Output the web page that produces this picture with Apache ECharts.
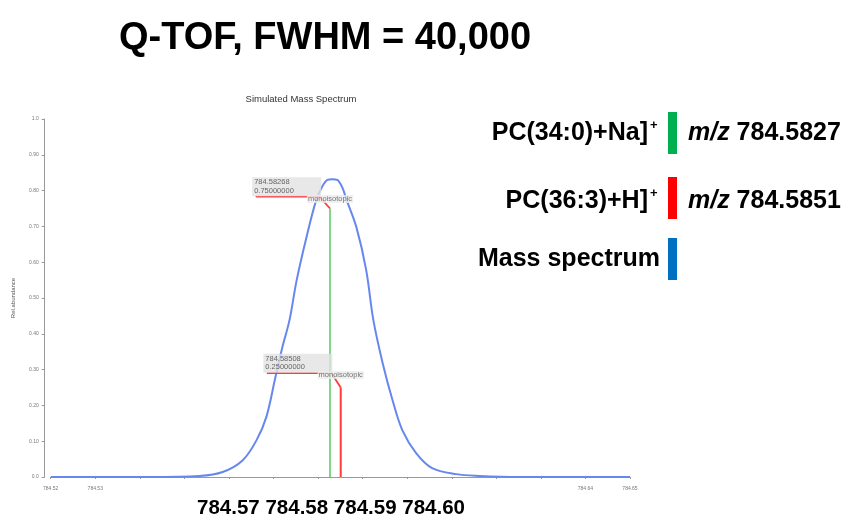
<!DOCTYPE html>
<html><head><meta charset="utf-8">
<script src="https://cdn.jsdelivr.net/npm/echarts@6/dist/echarts.min.js"></script>
<style>html,body{margin:0;padding:0;background:#fff}#c{width:846px;height:521px}</style>
</head><body><div id="c"></div>
<script>
// Simulated profile spectrum (m/z, relative abundance)
const spectrumMz = [784.5200, 784.5422, 784.5534, 784.5586, 784.5631, 784.5662, 784.5684, 784.5704, 784.5720, 784.5736, 784.5752, 784.5774, 784.5796, 784.5810, 784.5821, 784.5832, 784.5843, 784.5855, 784.5864, 784.5886, 784.5908, 784.5924, 784.5945, 784.5967, 784.5989, 784.6020, 784.6056, 784.6110, 784.6161, 784.6251, 784.6500];
const spectrumAbundance = [0.000, 0.000, 0.003, 0.014, 0.047, 0.103, 0.168, 0.277, 0.363, 0.439, 0.550, 0.670, 0.774, 0.813, 0.830, 0.832, 0.830, 0.807, 0.774, 0.698, 0.578, 0.439, 0.318, 0.215, 0.131, 0.067, 0.025, 0.008, 0.003, 0.000, 0.000];
// Centroid sticks
const stickMz = [784.58268, 784.58508];
const stickAbundance = [0.75, 0.25];
const stickMzText = ['784.58268', '784.58508'];
const stickAbundanceText = ['0.75000000', '0.25000000'];
const stickNote = 'monoisotopic';
// Annotation leader anchors (data coords)
const leaderStartMz = [784.5660, 784.5685];
const leaderBendMz = [784.5803, 784.5830];
const leaderLevel = [0.783, 0.290];
// Axis
const xMin = 784.52, xMax = 784.65, xStep = 0.01;
const yMin = 0, yMax = 1, yStep = 0.1;
const bigTickLabels = ['784.57', '784.58', '784.59', '784.60'];
// Legend
const legendNames = ['PC(34:0)+Na]', 'PC(36:3)+H]', 'Mass spectrum'];
const legendSup = ['+', '+', ''];
const legendMz = ['784.5827', '784.5851', ''];
const legendColors = ['#00b050', '#ff0000', '#0070c0'];

const chart = echarts.init(document.getElementById('c'), null, {renderer: 'canvas'});
const FONT = '"Liberation Sans", Arial, sans-serif';

const spectrumData = spectrumMz.map((m, i) => [m, spectrumAbundance[i]]);
const stickColors = ['#7fd88a', '#ff3b3b'];

const series = [{
  type: 'line', data: spectrumData, showSymbol: false, smooth: 0.35,
  lineStyle: {color: '#6688ee', width: 2}, z: 3, silent: true
}];
stickMz.forEach((m, i) => {
  series.push({
    type: 'line', data: [[m, 0], [m, stickAbundance[i]]], showSymbol: false,
    lineStyle: {color: stickColors[i], width: 2}, z: 4, silent: true
  });
  series.push({
    type: 'line',
    data: [[leaderStartMz[i], leaderLevel[i]], [leaderBendMz[i], leaderLevel[i]], [m, stickAbundance[i]]],
    showSymbol: false, lineStyle: {color: '#ff3b3b', width: 1.8}, z: 5, silent: true
  });
  series.push({
    type: 'scatter', symbolSize: 1, itemStyle: {color: 'transparent'}, z: 6, silent: true,
    data: [{
      value: [leaderStartMz[i], leaderLevel[i]],
      label: {
        show: true, position: [-3, -19],
        formatter: stickMzText[i] + '\n' + stickAbundanceText[i],
        backgroundColor: '#e2e2e2', width: 65, padding: [1, 2, 1, 2],
        fontSize: 7.5, lineHeight: 8.5, color: '#444', fontFamily: FONT
      }
    }, {
      value: [m, stickAbundance[i]],
      label: {
        show: true, position: 'top', distance: i === 0 ? 5 : 8,
        formatter: stickNote, backgroundColor: '#ececec', padding: [0, 1],
        fontSize: 7.5, color: '#555', fontFamily: FONT
      }
    }]
  });
});

const graphics = [
  {type: 'text', style: {text: 'Q-TOF, FWHM = 40,000', x: 325, y: 39, align: 'center', verticalAlign: 'middle',
    font: 'bold 38px ' + FONT, fill: '#000'}},
  {type: 'text', style: {text: 'Simulated Mass Spectrum', x: 301, y: 99, align: 'center', verticalAlign: 'middle',
    font: '9.5px ' + FONT, fill: '#333'}}
];
const bigX = [228.4, 296.8, 365.2, 433.6];
bigTickLabels.forEach((t, i) => {
  graphics.push({type: 'text', style: {text: t, x: bigX[i], y: 508, align: 'center', verticalAlign: 'middle',
    font: 'bold 20.5px ' + FONT, fill: '#000'}});
});
const rowMid = [133, 201, 259];
const rowBarTop = [112, 177, 238];
legendNames.forEach((n, i) => {
  const hasSup = legendSup[i] !== '';
  graphics.push({type: 'text', style: {text: n, x: hasSup ? 648 : 660, y: rowMid[i], align: 'right', verticalAlign: 'middle',
    font: 'bold 25px ' + FONT, fill: '#000'}});
  if (hasSup) graphics.push({type: 'text', style: {text: legendSup[i], x: 650, y: rowMid[i] - 8, align: 'left', verticalAlign: 'middle',
    font: 'bold 13px ' + FONT, fill: '#000'}});
  graphics.push({type: 'rect', shape: {x: 668, y: rowBarTop[i], width: 9, height: 42}, style: {fill: legendColors[i]}});
  if (legendMz[i]) {
    graphics.push({type: 'text', style: {
      text: '{i|m/z} {n|' + legendMz[i] + '}', x: 688, y: rowMid[i], align: 'left', verticalAlign: 'middle',
      rich: {i: {font: 'italic bold 25px ' + FONT, fill: '#000'}, n: {font: 'bold 25px ' + FONT, fill: '#000'}},
      font: 'bold 25px ' + FONT, fill: '#000'}});
  }
});

chart.setOption({
  animation: false,
  backgroundColor: '#fff',
  grid: {left: 50.7, right: 216, top: 119, bottom: 44},
  xAxis: {
    type: 'value', min: xMin, max: xMax, interval: xStep, offset: 5,
    axisLine: {lineStyle: {color: '#999', width: 1}},
    axisTick: {show: true, length: 2, lineStyle: {color: '#999'}},
    splitLine: {show: false},
    axisLabel: {
      fontSize: 5, color: '#777', margin: 4, fontFamily: FONT,
      formatter: v => (v < xMin + 1.5 * xStep || v > xMax - 1.5 * xStep) ? v.toFixed(2) : ''
    }
  },
  yAxis: {
    type: 'value', min: yMin, max: yMax, interval: yStep, offset: 6,
    name: 'Rel.abundance', nameLocation: 'middle', nameGap: 28, nameRotate: 90,
    nameTextStyle: {fontSize: 6, color: '#555', fontFamily: FONT},
    axisLine: {show: true, lineStyle: {color: '#999', width: 1}},
    axisTick: {show: true, length: 3, lineStyle: {color: '#999'}},
    splitLine: {show: false},
    axisLabel: {
      fontSize: 5, color: '#777', margin: 6, fontFamily: FONT,
      formatter: v => (v === 0 ? '0.0' : (Math.abs(v - 1) < 1e-9 ? '1.0' : v.toFixed(2)))
    }
  },
  series: series,
  graphic: graphics
});
</script>
</body></html>
